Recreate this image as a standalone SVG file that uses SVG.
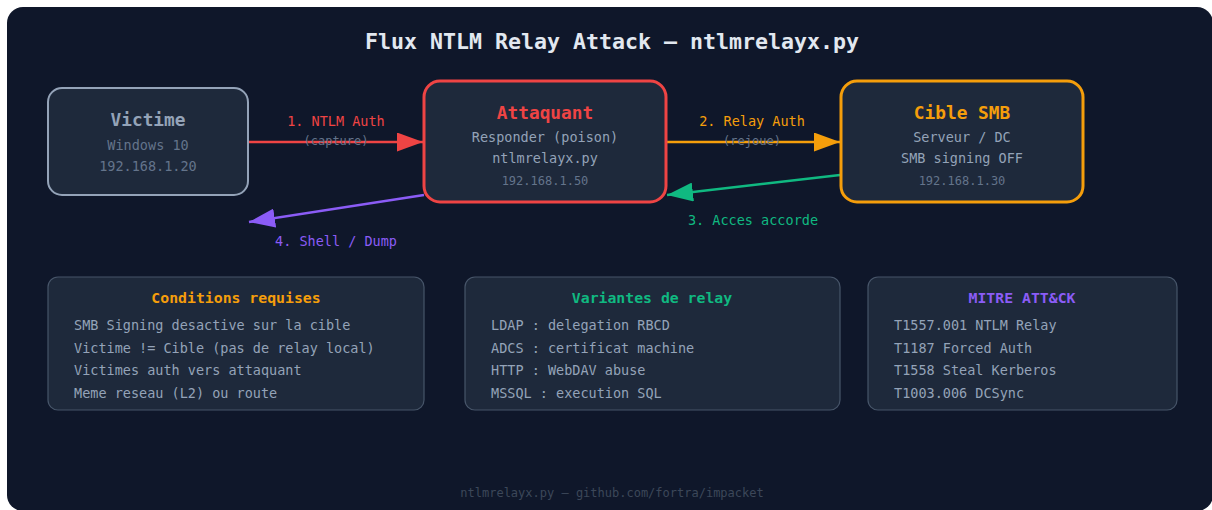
<svg xmlns="http://www.w3.org/2000/svg" width="1212" height="510" viewBox="0 0 1212 510">
<defs>
<style>
text{font-family:"DejaVu Sans Mono","Liberation Mono",monospace;text-anchor:middle}
.node{fill:#1e293b}
.ttl{font-size:17.8px;font-weight:bold}
.sub{font-size:13.5px;fill:#94a3b8}
.ip{font-size:12px;fill:#64748b}
.lbl{font-size:13.5px}
.note{font-size:12px;fill:#64748b}
.panel{fill:#1e293b;stroke:#475569;stroke-width:1.2}
.ptitle{font-size:14.8px;font-weight:bold}
.item{font-size:13.5px;fill:#94a3b8;text-anchor:start}
.conn{fill:none;stroke-width:2.6}
</style>
<marker id="mRed" markerUnits="userSpaceOnUse" markerWidth="26" markerHeight="19" refX="26" refY="9.5" orient="auto"><path d="M0,0 L26,9.5 L0,19 Z" fill="#ef4444"/></marker>
<marker id="mOrange" markerUnits="userSpaceOnUse" markerWidth="26" markerHeight="19" refX="26" refY="9.5" orient="auto"><path d="M0,0 L26,9.5 L0,19 Z" fill="#f59e0b"/></marker>
<marker id="mGreen" markerUnits="userSpaceOnUse" markerWidth="26" markerHeight="19" refX="26" refY="9.5" orient="auto"><path d="M0,0 L26,9.5 L0,19 Z" fill="#10b981"/></marker>
<marker id="mPurple" markerUnits="userSpaceOnUse" markerWidth="26" markerHeight="19" refX="26" refY="9.5" orient="auto"><path d="M0,0 L26,9.5 L0,19 Z" fill="#8b5cf6"/></marker>
</defs>
<rect x="0" y="0" width="1212" height="510" fill="#ffffff"/>
<rect x="7" y="7" width="1206" height="504" rx="16" fill="#0f172a"/>
<text x="612" y="49" style="font-size:21.6px;font-weight:bold" fill="#e2e8f0">Flux NTLM Relay Attack — ntlmrelayx.py</text>

<g id="connectors">
<line class="conn" x1="249" y1="142" x2="423" y2="142" stroke="#ef4444" marker-end="url(#mRed)"/>
<text class="lbl" x="336" y="126" fill="#ef4444">1. NTLM Auth</text>
<text class="note" x="336" y="145">(capture)</text>
<line class="conn" x1="667" y1="142" x2="840" y2="142" stroke="#f59e0b" marker-end="url(#mOrange)"/>
<text class="lbl" x="752" y="126" fill="#f59e0b">2. Relay Auth</text>
<text class="note" x="752" y="145">(rejoue)</text>
<line class="conn" x1="840" y1="175" x2="667" y2="195" stroke="#10b981" marker-end="url(#mGreen)"/>
<text class="lbl" x="753" y="225" fill="#10b981">3. Acces accorde</text>
<line class="conn" x1="424" y1="195" x2="249" y2="222" stroke="#8b5cf6" marker-end="url(#mPurple)"/>
<text class="lbl" x="336" y="246" fill="#8b5cf6">4. Shell / Dump</text>
</g>

<g id="victime">
<rect class="node" x="48" y="88" width="200" height="107" rx="14" stroke="#94a3b8" stroke-width="2"/>
<text class="ttl" x="148" y="126" fill="#94a3b8">Victime</text>
<text class="sub" x="148" y="150" style="fill:#64748b">Windows 10</text>
<text class="sub" x="148" y="171" style="fill:#64748b">192.168.1.20</text>
</g>

<g id="attaquant">
<rect class="node" x="424" y="81" width="242" height="121" rx="16" stroke="#ef4444" stroke-width="3"/>
<text class="ttl" x="545" y="119" fill="#ef4444">Attaquant</text>
<text class="sub" x="545" y="142">Responder (poison)</text>
<text class="sub" x="545" y="162.5">ntlmrelayx.py</text>
<text class="ip" x="545" y="185">192.168.1.50</text>
</g>

<g id="cible">
<rect class="node" x="841" y="81" width="242" height="121" rx="16" stroke="#f59e0b" stroke-width="3"/>
<text class="ttl" x="962" y="119" fill="#f59e0b">Cible SMB</text>
<text class="sub" x="962" y="142">Serveur / DC</text>
<text class="sub" x="962" y="162.5">SMB signing OFF</text>
<text class="ip" x="962" y="185">192.168.1.30</text>
</g>

<g id="conditions">
<rect class="panel" x="48" y="277" width="376" height="133" rx="10"/>
<text class="ptitle" x="236" y="303" fill="#f59e0b">Conditions requises</text>
<text class="item" x="74" y="330">SMB Signing desactive sur la cible</text>
<text class="item" x="74" y="352.7">Victime != Cible (pas de relay local)</text>
<text class="item" x="74" y="375.3">Victimes auth vers attaquant</text>
<text class="item" x="74" y="398">Meme reseau (L2) ou route</text>
</g>

<g id="variantes">
<rect class="panel" x="465" y="277" width="375" height="133" rx="10"/>
<text class="ptitle" x="652" y="303" fill="#10b981">Variantes de relay</text>
<text class="item" x="491" y="330">LDAP : delegation RBCD</text>
<text class="item" x="491" y="352.7">ADCS : certificat machine</text>
<text class="item" x="491" y="375.3">HTTP : WebDAV abuse</text>
<text class="item" x="491" y="398">MSSQL : execution SQL</text>
</g>

<g id="mitre">
<rect class="panel" x="868" y="277" width="309" height="133" rx="10"/>
<text class="ptitle" x="1022" y="303" fill="#8b5cf6">MITRE ATT&amp;CK</text>
<text class="item" x="894" y="330">T1557.001 NTLM Relay</text>
<text class="item" x="894" y="352.7">T1187 Forced Auth</text>
<text class="item" x="894" y="375.3">T1558 Steal Kerberos</text>
<text class="item" x="894" y="398">T1003.006 DCSync</text>
</g>

<text x="612" y="497" style="font-size:12px" fill="#3c4759">ntlmrelayx.py — github.com/fortra/impacket</text>
</svg>
